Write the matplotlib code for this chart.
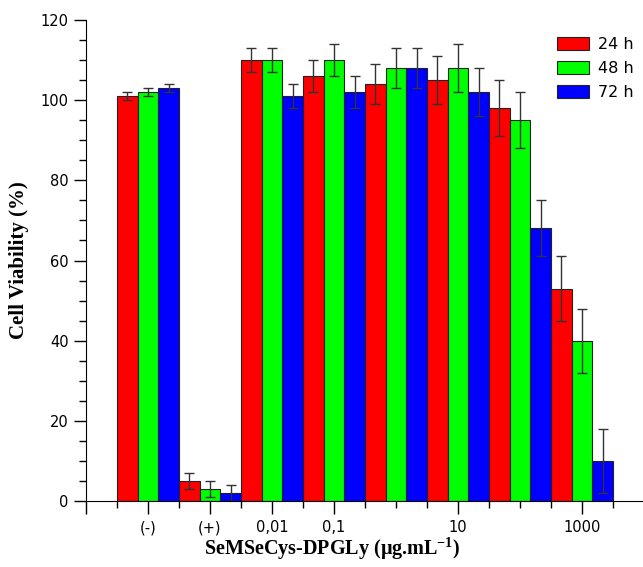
import numpy as np
import matplotlib
matplotlib.use('Agg')
import matplotlib.pyplot as plt
from matplotlib.ticker import MultipleLocator, FixedLocator

plt.rcParams['mathtext.fontset'] = 'custom'
plt.rcParams['mathtext.rm'] = 'Liberation Serif'
plt.rcParams['mathtext.bf'] = 'Liberation Serif:bold'

groups = ['(-)', '(+)', '0,01', '0,1', '1', '10', '100', '1000']
tick_labels = ['(-)', '(+)', '0,01', '0,1', '', '10', '', '1000']
v24 = [101, 5, 110, 106, 104, 105, 98, 53]
v48 = [102, 3, 110, 110, 108, 108, 95, 40]
v72 = [103, 2, 101, 102, 108, 102, 68, 10]
e24 = [1, 2, 3, 4, 5, 6, 7, 8]
e48 = [1, 2, 3, 4, 5, 6, 7, 8]
e72 = [1, 2, 3, 4, 5, 6, 7, 8]
series = ['24 h', '48 h', '72 h']

fig = plt.figure(figsize=(6.43, 5.67), dpi=100)
ax = fig.add_axes([0.1337, 0.1164, 0.866, 0.8483])

x = np.arange(len(groups))
w = 1 / 3
cols = ['#ff0000', '#00ff00', '#0000ff']
for i, (vals, errs) in enumerate([(v24, e24), (v48, e48), (v72, e72)]):
    ax.bar(x + (i - 1) * w, vals, w, color=cols[i], edgecolor='#222222',
           linewidth=0.8, label=series[i],
           yerr=errs, capsize=3.5,
           error_kw=dict(ecolor='#333333', elinewidth=1, capthick=1))

ax.set_xlim(-1, 7.98)
ax.set_ylim(0, 120)
ax.spines['top'].set_visible(False)
ax.spines['right'].set_visible(False)

major = [-1, 0, 1, 2, 3, 5, 7]
ax.xaxis.set_major_locator(FixedLocator(major))
ax.set_xticklabels([''] + [tick_labels[i] for i in [0, 1, 2, 3, 5, 7]])
ax.xaxis.set_minor_locator(FixedLocator([-0.5, 0.5, 1.5, 2.5, 3.5, 4, 4.5, 5.5, 6, 6.5, 7.5]))
ax.yaxis.set_major_locator(MultipleLocator(20))
ax.yaxis.set_minor_locator(MultipleLocator(5))
ax.tick_params(which='major', direction='out', length=9, width=1, labelsize=10.5)
ax.tick_params(which='minor', direction='out', length=5, width=1)
ax.tick_params(axis='x', which='major', pad=5)

ax.set_ylabel('Cell Viability (%)', fontsize=15, fontweight='bold',
              family='Liberation Serif', labelpad=8)
ax.set_xlabel('SeMSeCys-DPGLy (\u03bcg.mL$^{\\mathbf{-1}}$)', fontsize=14.5,
              fontweight='bold', family='Liberation Serif')
ax.xaxis.set_label_coords(0.442, -0.07)

ax.legend(loc='upper right', bbox_to_anchor=(1.01, 0.995), frameon=False,
          fontsize=11.5, handlelength=2.0, handleheight=0.9,
          labelspacing=0.55, handletextpad=0.6)

fig.savefig('out.png', dpi=100)
